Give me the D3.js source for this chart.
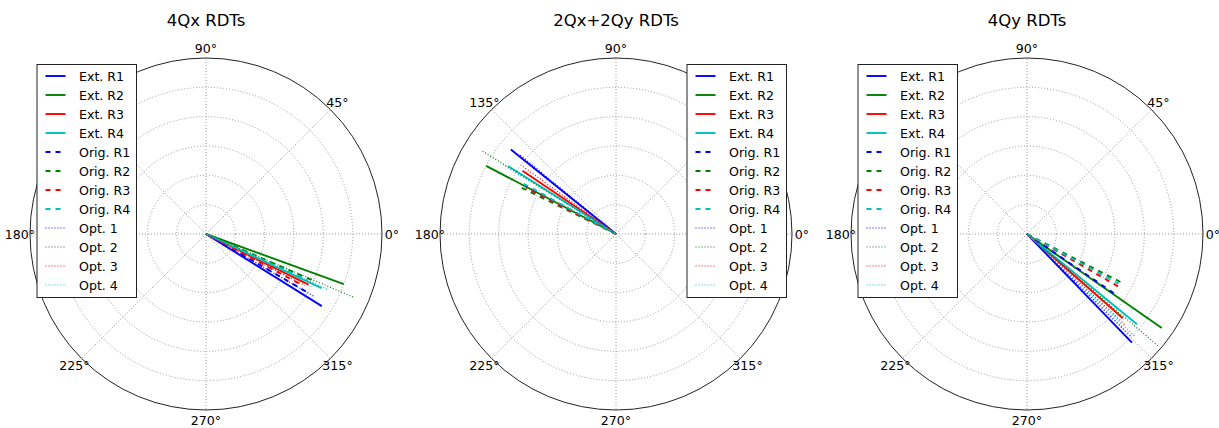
<!DOCTYPE html>
<html>
  <head>
    <style>
      body { margin: 0; background: white; }
      text { font-family: "DejaVu Sans", sans-serif; fill: #000; }
    </style>
  </head>
  <body>
    <script src="https://d3js.org/d3.v7.min.js"></script>
    <script>
      // chart data (angle in degrees, amplitude)
      var titles = ["4Qx RDTs", "2Qx+2Qy RDTs", "4Qy RDTs"];
      var seriesNames = ["Ext. R1", "Ext. R2", "Ext. R3", "Ext. R4",
                         "Orig. R1", "Orig. R2", "Orig. R3", "Orig. R4",
                         "Opt. 1", "Opt. 2", "Opt. 3", "Opt. 4"];

      var phase4Qx = [328.1, 340.0, 333.7, 334.9, 330.1, 336.5, 332.0, 335.5, 330.0, 336.8, 332.5, 335.5];
      var amp4Qx   = [0.93, 1.00, 0.78, 0.87, 0.80, 0.79, 0.74, 0.76, 0.86, 1.10, 0.76, 0.92];

      var phase2Qx2Qy = [141.2, 152.3, 145.9, 147.8, 152.0, 153.9, 152.8, 151.5, 140.5, 148.2, 144.0, 148.5];
      var amp2Qx2Qy   = [0.92, 1.00, 0.77, 0.87, 0.70, 0.72, 0.69, 0.73, 0.86, 1.07, 0.80, 0.92];

      var phase4Qy = [314.0, 325.1, 318.7, 320.6, 325.7, 332.8, 330.1, 331.5, 315.5, 319.5, 317.2, 316.5];
      var amp4Qy   = [1.03, 1.12, 0.87, 0.97, 0.74, 0.74, 0.73, 0.71, 0.99, 1.17, 0.92, 1.01];

      var angleTicks = [0, 45, 90, 135, 180, 225, 270, 315];
      var radialTicks = [0.2, 0.4, 0.6, 0.8, 1.0, 1.2];

      var phases = [phase4Qx, phase2Qx2Qy, phase4Qy];
      var amps = [amp4Qx, amp2Qx2Qy, amp4Qy];

      // styles
      var colors = ["#0000ff", "#008000", "#ff0000", "#00bfbf"];
      var dashes = [null, "5,5", "1,2"];
      var widths = [1.9, 1.9, 1.2];

      var width = 1219, height = 428;
      var centersX = [206, 616, 1027], cy = 234, R = 176;
      var legendSide = ["left", "right", "left"];
      var lw = 99.5, lh = 233, ltop = 64;

      var svg = d3.select("body").append("svg")
          .attr("width", width)
          .attr("height", height);

      var r = d3.scaleLinear().domain([0, 1.2]).range([0, R]);
      var toRad = function(deg) { return (90 - deg) * Math.PI / 180; };

      var line = d3.lineRadial()
          .angle(function(d) { return toRad(d[0]); })
          .radius(function(d) { return r(d[1]); });

      titles.forEach(function(title, p) {
        var cx = centersX[p];
        var lx = legendSide[p] === "left" ? cx - 169.5 : cx + 170 - lw;

        var g = svg.append("g")
            .attr("transform", "translate(" + cx + "," + cy + ")");

        // grid rings
        g.selectAll("circle.ring")
          .data(radialTicks.slice(0, -1))
          .enter().append("circle")
          .attr("class", "ring")
          .attr("r", function(d) { return r(d); })
          .attr("fill", "none")
          .attr("stroke", "#8f8f8f")
          .attr("stroke-width", 0.9)
          .attr("stroke-dasharray", "1,2");

        // spokes
        g.selectAll("line.spoke")
          .data(angleTicks)
          .enter().append("line")
          .attr("class", "spoke")
          .attr("x1", 0).attr("y1", 0)
          .attr("x2", function(d) { return d3.pointRadial(toRad(d), R)[0]; })
          .attr("y2", function(d) { return d3.pointRadial(toRad(d), R)[1]; })
          .attr("stroke", "#8f8f8f")
          .attr("stroke-width", 0.9)
          .attr("stroke-dasharray", "1,2");

        // outer frame
        g.append("circle")
          .attr("r", R)
          .attr("fill", "none")
          .attr("stroke", "#222")
          .attr("stroke-width", 1);

        // angle labels (the ones under the legend box are covered in the original)
        var visible = angleTicks.filter(function(d) {
          var pt = d3.pointRadial(toRad(d), R + 10);
          var x = cx + pt[0], y = cy + pt[1];
          return !(x > lx - 8 && x < lx + lw + 8 && y > ltop - 4 && y < ltop + lh + 4);
        });
        g.selectAll("text.alab")
          .data(visible)
          .enter().append("text")
          .attr("class", "alab")
          .attr("x", function(d) { return d3.pointRadial(toRad(d), R + 10)[0]; })
          .attr("y", function(d) { return d3.pointRadial(toRad(d), R + 10)[1]; })
          .attr("text-anchor", "middle")
          .attr("dominant-baseline", "central")
          .style("font-size", "12.6px")
          .text(function(d) { return d + "°"; });

        // series
        seriesNames.forEach(function(name, i) {
          var kind = Math.floor(i / 4);
          g.append("path")
            .datum([[phases[p][i], 0], [phases[p][i], amps[p][i]]])
            .attr("d", line)
            .attr("fill", "none")
            .attr("stroke", colors[i % 4])
            .attr("stroke-width", widths[kind])
            .attr("stroke-dasharray", dashes[kind]);
        });

        // title
        svg.append("text")
          .attr("x", cx)
          .attr("y", 26)
          .attr("text-anchor", "middle")
          .style("font-size", "16.5px")
          .text(title);

        // legend
        var leg = svg.append("g")
            .attr("transform", "translate(" + lx + "," + ltop + ")");
        leg.append("rect")
          .attr("x", 0.5).attr("y", 0.5)
          .attr("width", lw).attr("height", lh)
          .attr("fill", "white")
          .attr("stroke", "#222")
          .attr("stroke-width", 1);
        var rows = leg.selectAll("g.row")
          .data(seriesNames)
          .enter().append("g")
          .attr("class", "row")
          .attr("transform", function(d, i) { return "translate(0," + (12 + i * 19) + ")"; });
        rows.append("line")
          .attr("x1", 9).attr("x2", 29)
          .attr("stroke", function(d, i) { return colors[i % 4]; })
          .attr("stroke-width", function(d, i) { return widths[Math.floor(i / 4)]; })
          .attr("stroke-dasharray", function(d, i) { return dashes[Math.floor(i / 4)]; });
        rows.append("text")
          .attr("x", 42.5)
          .attr("dominant-baseline", "central")
          .style("font-size", "12.6px")
          .text(function(d) { return d; });
      });
    </script>
  </body>
</html>
